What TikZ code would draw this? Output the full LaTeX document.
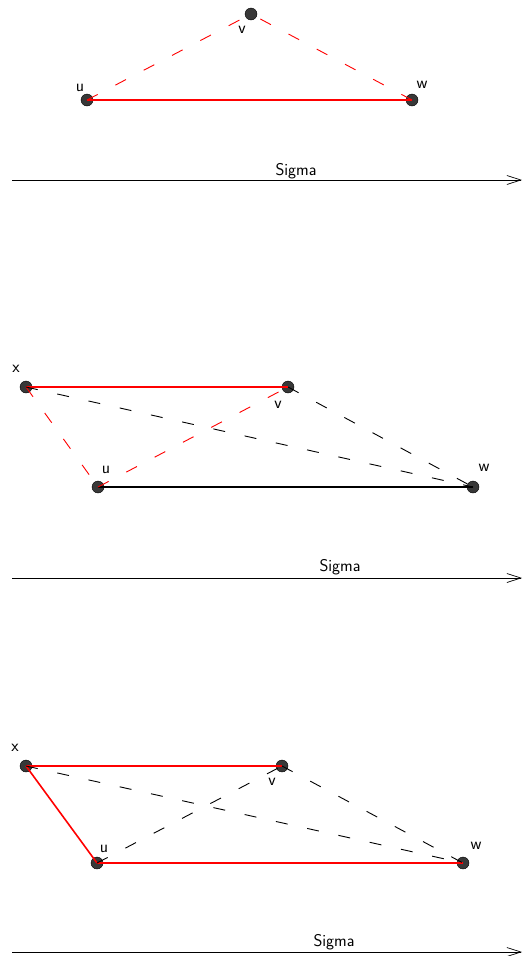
\documentclass[tikz,border=0pt]{standalone}
\usepackage{fontspec}
\usepackage{tikz}
\usetikzlibrary{arrows.meta}

\tikzset{
  dot/.style={circle, draw=black, fill=black!78, inner sep=0pt, minimum size=12pt},
  lbl/.style={font=\sffamily\fontsize{17}{20}\selectfont, inner sep=0pt, anchor=base},
  redline/.style={red, line width=1.6pt},
  blackline/.style={black, line width=1.2pt},
  reddash/.style={red, line width=0.9pt, dash pattern=on 12pt off 20pt},
  blackdash/.style={black, line width=0.9pt, dash pattern=on 12pt off 20pt},
  sigmaaxis/.style={line width=0.8pt, -{Straight Barb[length=14pt,width=9pt,line width=0.7pt]}}
}

\begin{document}
\begin{tikzpicture}[x=1pt, y=-1pt]
  \useasboundingbox (0,0) rectangle (523,956);

  % First picture
  \node[dot] (v1) at (251,14) {};
  \node[dot] (u1) at (87,100) {};
  \node[dot] (w1) at (412,100) {};
  \node[lbl] (lu1) at (80,91) {u};
  \node[lbl] (lv1) at (242,33) {v};
  \node[lbl] (lw1) at (422,88) {w};

  \draw[redline] (u1.center) -- (w1.center);
  \draw[reddash] (u1.center) -- (v1.center);
  \draw[reddash] (w1.center) -- (v1.center);

  \coordinate (a1) at (12,180);
  \coordinate (b1) at (522,180);
  \draw[sigmaaxis] (a1) -- (b1);
  \node[lbl] (s1) at (296,175) {Sigma};

  % Second picture
  \node[dot] (x2) at (26,387) {};
  \node[dot] (v2) at (288,387) {};
  \node[dot] (u2) at (98,487) {};
  \node[dot] (w2) at (473,487) {};
  \node[lbl] (lx2) at (16,372) {x};
  \node[lbl] (lv2) at (278,408) {v};
  \node[lbl] (lu2) at (106,473) {u};
  \node[lbl] (lw2) at (484,471) {w};

  \draw[redline] (x2.center) -- (v2.center);
  \draw[blackline] (u2.center) -- (w2.center);
  \draw[reddash] (x2.center) -- (u2.center);
  \draw[reddash] (u2.center) -- (v2.center);
  \draw[blackdash] (x2.center) -- (w2.center);
  \draw[blackdash] (v2.center) -- (w2.center);

  \coordinate (a2) at (12,578);
  \coordinate (b2) at (522,578);
  \draw[sigmaaxis] (a2) -- (b2);
  \node[lbl] (s2) at (340,571) {Sigma};

  % Third picture
  \node[dot] (x3) at (26,766) {};
  \node[dot] (v3) at (282,766) {};
  \node[dot] (u3) at (97,863) {};
  \node[dot] (w3) at (463,863) {};
  \node[lbl] (lx3) at (15,751) {x};
  \node[lbl] (lv3) at (272,785) {v};
  \node[lbl] (lu3) at (104,852) {u};
  \node[lbl] (lw3) at (476,849) {w};

  \draw[redline] (x3.center) -- (v3.center);
  \draw[redline] (x3.center) -- (u3.center);
  \draw[redline] (u3.center) -- (w3.center);
  \draw[blackdash] (u3.center) -- (v3.center);
  \draw[blackdash] (x3.center) -- (w3.center);
  \draw[blackdash] (v3.center) -- (w3.center);

  \coordinate (a3) at (12,952);
  \coordinate (b3) at (522,952);
  \draw[sigmaaxis] (a3) -- (b3);
  \node[lbl] (s3) at (334,946) {Sigma};
\end{tikzpicture}
\end{document}
